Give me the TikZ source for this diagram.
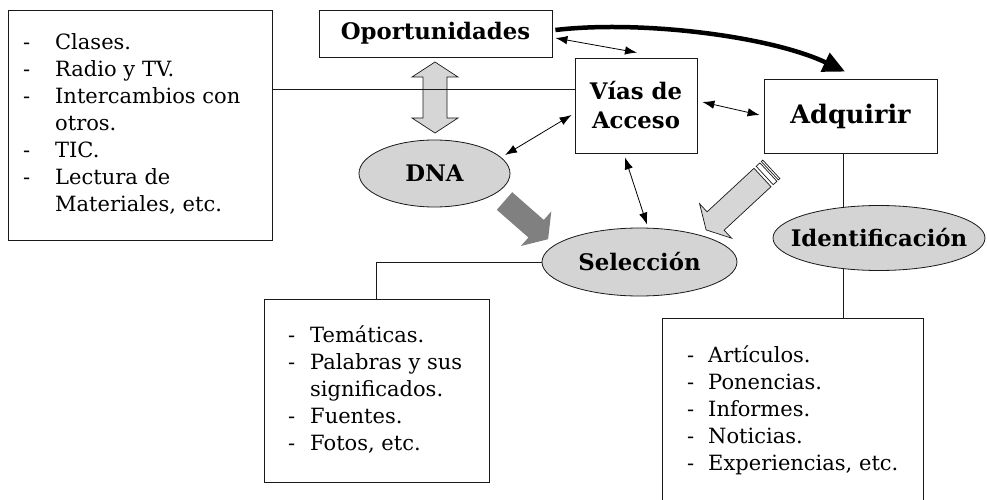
\documentclass[tikz,border=0pt]{standalone}
\usepackage{fontspec}
\setmainfont{DejaVu Serif}
\usetikzlibrary{arrows.meta,calc,backgrounds,shapes.geometric}
\definecolor{ellfill}{RGB}{212,212,212}
\definecolor{arrfill}{RGB}{214,214,214}
\definecolor{darkarr}{RGB}{128,128,128}
\begin{document}
\begin{tikzpicture}[x=1pt,y=-1pt,
  box/.style={draw=black!90,line width=0.8pt,fill=white,inner sep=0pt},
  ell/.style={draw=black!90,line width=0.8pt,fill=ellfill,ellipse,inner sep=0pt},
  btxt/.style={font=\fontsize{22.8}{29}\selectfont\bfseries},
  lst/.style={inner sep=0pt,anchor=base west,font=\fontsize{21}{27}\selectfont},
  dbl/.style={line width=0.8pt,{Latex[length=12pt,width=8.5pt]}-{Latex[length=12pt,width=8.5pt]}},
  blk/.style={draw=black!90,line width=0.7pt,fill=arrfill},
  conn/.style={draw=black!90,line width=0.8pt}
]
\useasboundingbox (0,0) rectangle (987,500);

% boxes
\node[box,minimum width=264pt,minimum height=230pt] (lbox) at (140,125) {};
\node[lst] (ltxt) at (23,50) {\begin{tabular}[t]{@{}p{32pt}@{}l@{}}-&Clases.\\-&Radio y TV.\\-&Intercambios con\\&otros.\\-&TIC.\\-&Lectura de\\&Materiales, etc.\end{tabular}};

\node[box,minimum width=233pt,minimum height=47pt,btxt] (opor) at (435.5,33.5) {Oportunidades};
\node[box,minimum width=122pt,minimum height=95pt,btxt,align=center] (vias) at (636,105.5) {Vías de\\Acceso};
\node[box,minimum width=173pt,minimum height=74pt,font=\fontsize{25.5}{29}\selectfont\bfseries] (adq) at (850.5,116) {Adquirir};

\node[box,minimum width=225pt,minimum height=183pt] (mbox) at (376.5,390.5) {};
\node[lst] (mtxt) at (288,342) {\begin{tabular}[t]{@{}p{22pt}@{}l@{}}-&Temáticas.\\-&Palabras y sus\\&significados.\\-&Fuentes.\\-&Fotos, etc.\end{tabular}};

\node[box,minimum width=261pt,minimum height=200pt] (rbox) at (792.5,418) {};
\node[lst] (rtxt) at (687,362) {\begin{tabular}[t]{@{}p{21pt}@{}l@{}}-&Artículos.\\-&Ponencias.\\-&Informes.\\-&Noticias.\\-&Experiencias, etc.\end{tabular}};

% ellipses
\node[ell,minimum width=151pt,minimum height=67pt] (dna) at (434.5,173.5) {};
\node[btxt,inner sep=0pt] (dnat) at (dna.center) {DNA};
\node[ell,minimum width=195pt,minimum height=68pt] (sel) at (639.5,262) {};
\node[btxt,inner sep=0pt] (selt) at (sel.center) {Selección};
\node[ell,minimum width=212pt,minimum height=65pt] (ident) at (879,238) {};
\node[btxt,inner sep=0pt] (identt) at (ident.center) {Identificación};

% hollow double arrow
\draw[blk] (435,62) -- (458,77) -- (447,77) -- (447,118) -- (458,118) -- (435,133)
  -- (412,118) -- (423,118) -- (423,77) -- (412,77) -- cycle;

% dark block arrow
\fill[darkarr] (512.2,192.2) -- (543.8,219.9) -- (551.3,211.4) -- (548.1,239.2)
  -- (520.9,246.0) -- (528.4,237.5) -- (496.8,209.8) -- cycle;

% striped arrow
\draw[blk] (771.0,186.7) -- (724.1,230.2) -- (731.6,238.2) -- (706.1,229.9)
  -- (699.6,203.8) -- (707.1,211.8) -- (754.0,168.3) -- cycle;
\draw[blk,fill=white] (773.2,184.7) -- (776.9,181.3) -- (759.9,162.9) -- (756.2,166.3) -- cycle;
\draw[blk,fill=white] (778.3,179.9) -- (779.8,178.5) -- (762.8,160.1) -- (761.3,161.5) -- cycle;

% plain lines
\coordinate (hl) at ($(vias.west)+(0,-16.5)$);
\draw[conn] (hl) -- (hl -| lbox.east);
\draw[conn] (sel.west) -| (mbox.north);
\begin{pgfonlayer}{background}
\coordinate (vl) at ($(adq.south)+(-7.5,0)$);
\draw[conn] (vl) -- (vl |- rbox.north);
\end{pgfonlayer}

% double-headed arrows
\draw[dbl] ($(opor.east)+(3,4.5)$) -- ($(vias.north)+(1,-5)$);
\draw[dbl] ($(dna.center)+(70.5,-18.5)$) -- ($(vias.west)+(-3,9.5)$);
\draw[dbl] ($(vias.south)+(-11,4)$) -- ($(sel.north)+(7.5,-3)$);
\draw[dbl] ($(vias.east)+(5,-3.5)$) -- ($(adq.west)+(-4,-1)$);

% thick curved arrow
\draw[line width=4.5pt,-{Triangle[length=22pt,width=20pt]}]
  ($(opor.east)+(3,-3.5)$) .. controls (640,20) and (770,36) .. ($(adq.north)+(-5.5,-7)$);
\end{tikzpicture}
\end{document}
